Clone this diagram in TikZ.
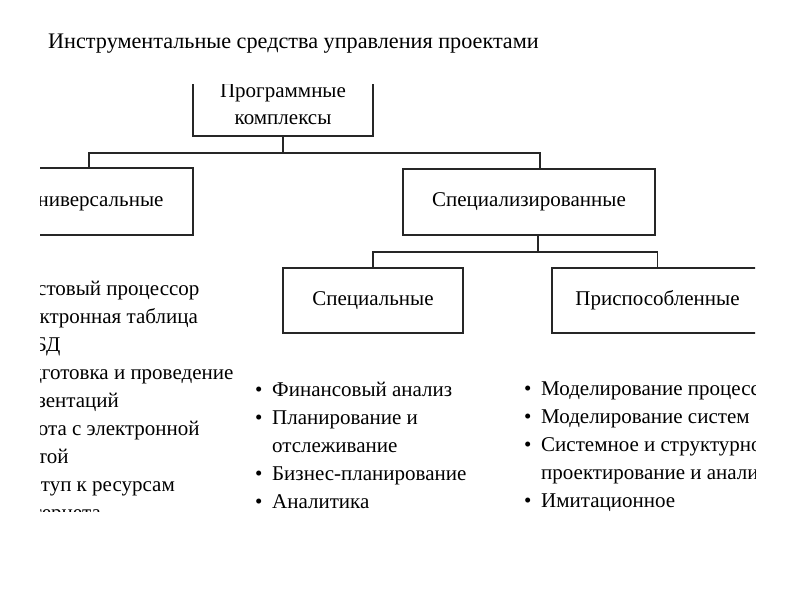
\documentclass[tikz,border=0pt]{standalone}
\usepackage{fontspec}
\setmainfont{Liberation Serif}
\usepackage{tikz}
\tikzset{
  bloco/.style={draw=black!85, line width=1.8pt, minimum width=#1, minimum height=66pt, align=center, inner sep=0pt, font=\fontsize{21}{27}\selectfont},
  bloco/.default=180pt,
  ramo/.style={draw=black!85, line width=1.8pt},
  lista/.style={anchor=north west, align=left, inner sep=0pt, font=\fontsize{21}{28}\selectfont},
}
\newcommand{\marca}{\makebox[17pt][l]{\textbullet}}
\newcommand{\recuo}{\hspace*{17pt}}

\begin{document}
\begin{tikzpicture}[x=1pt, y=-1pt]
  \useasboundingbox (0,0) rectangle (800,600);
  \node[anchor=west, inner sep=0pt, font=\fontsize{22.2}{27}\selectfont] (titulo) at (48,44) {Инструментальные средства управления проектами};

  \begin{scope}
    % recorte da figura original
    \clip (40,84) rectangle (755,511);
    \node[bloco=180pt, minimum height=64pt] (prog) at (283,104) {Программные\\комплексы};
    \node[bloco=198pt, minimum height=67pt] (univ) at (94,201.5) {Универсальные};
    \node[bloco=252pt] (spec) at (529,202) {Специализированные};
    \node[bloco=180pt, minimum height=65pt] (especiais) at (373,300.5) {Специальные};
    \node[bloco=211pt, minimum height=65pt] (adapt) at (657.5,300.5) {Приспособленные};

    \coordinate (n1) at (283,153);
    \coordinate (n2) at (538,252);
    \draw[ramo] (prog.south) -- (n1);
    \draw[ramo] (n1) -| ([xshift=-5pt]univ.north);
    \draw[ramo] (n1) -| ([xshift=11pt]spec.north);
    \draw[ramo] ([xshift=9pt]spec.south) -- (n2);
    \draw[ramo] (n2) -| (especiais.north);
    \draw[ramo] (n2) -| (adapt.north);

    \node[lista] (ferramentas) at (-11,281) {\marca Текстовый процессор\\
      \marca Электронная таблица\\
      \marca СУБД\\
      \marca Подготовка и проведение\\
      \recuo презентаций\\
      \marca Работа с электронной\\
      \recuo почтой\\
      \marca Доступ к ресурсам\\
      \recuo Интернета};
    \node[lista] (funcoes) at (255,382) {\marca Финансовый анализ\\
      \marca Планирование и\\
      \recuo отслеживание\\
      \marca Бизнес-планирование\\
      \marca Аналитика};
    \node[lista] (modelos) at (524,382) {\marca Моделирование процессов\\
      \marca Моделирование систем\\
      \marca Системное и структурное\\
      \recuo проектирование и анализ\\
      \marca Имитационное};
  \end{scope}
\end{tikzpicture}
\end{document}
